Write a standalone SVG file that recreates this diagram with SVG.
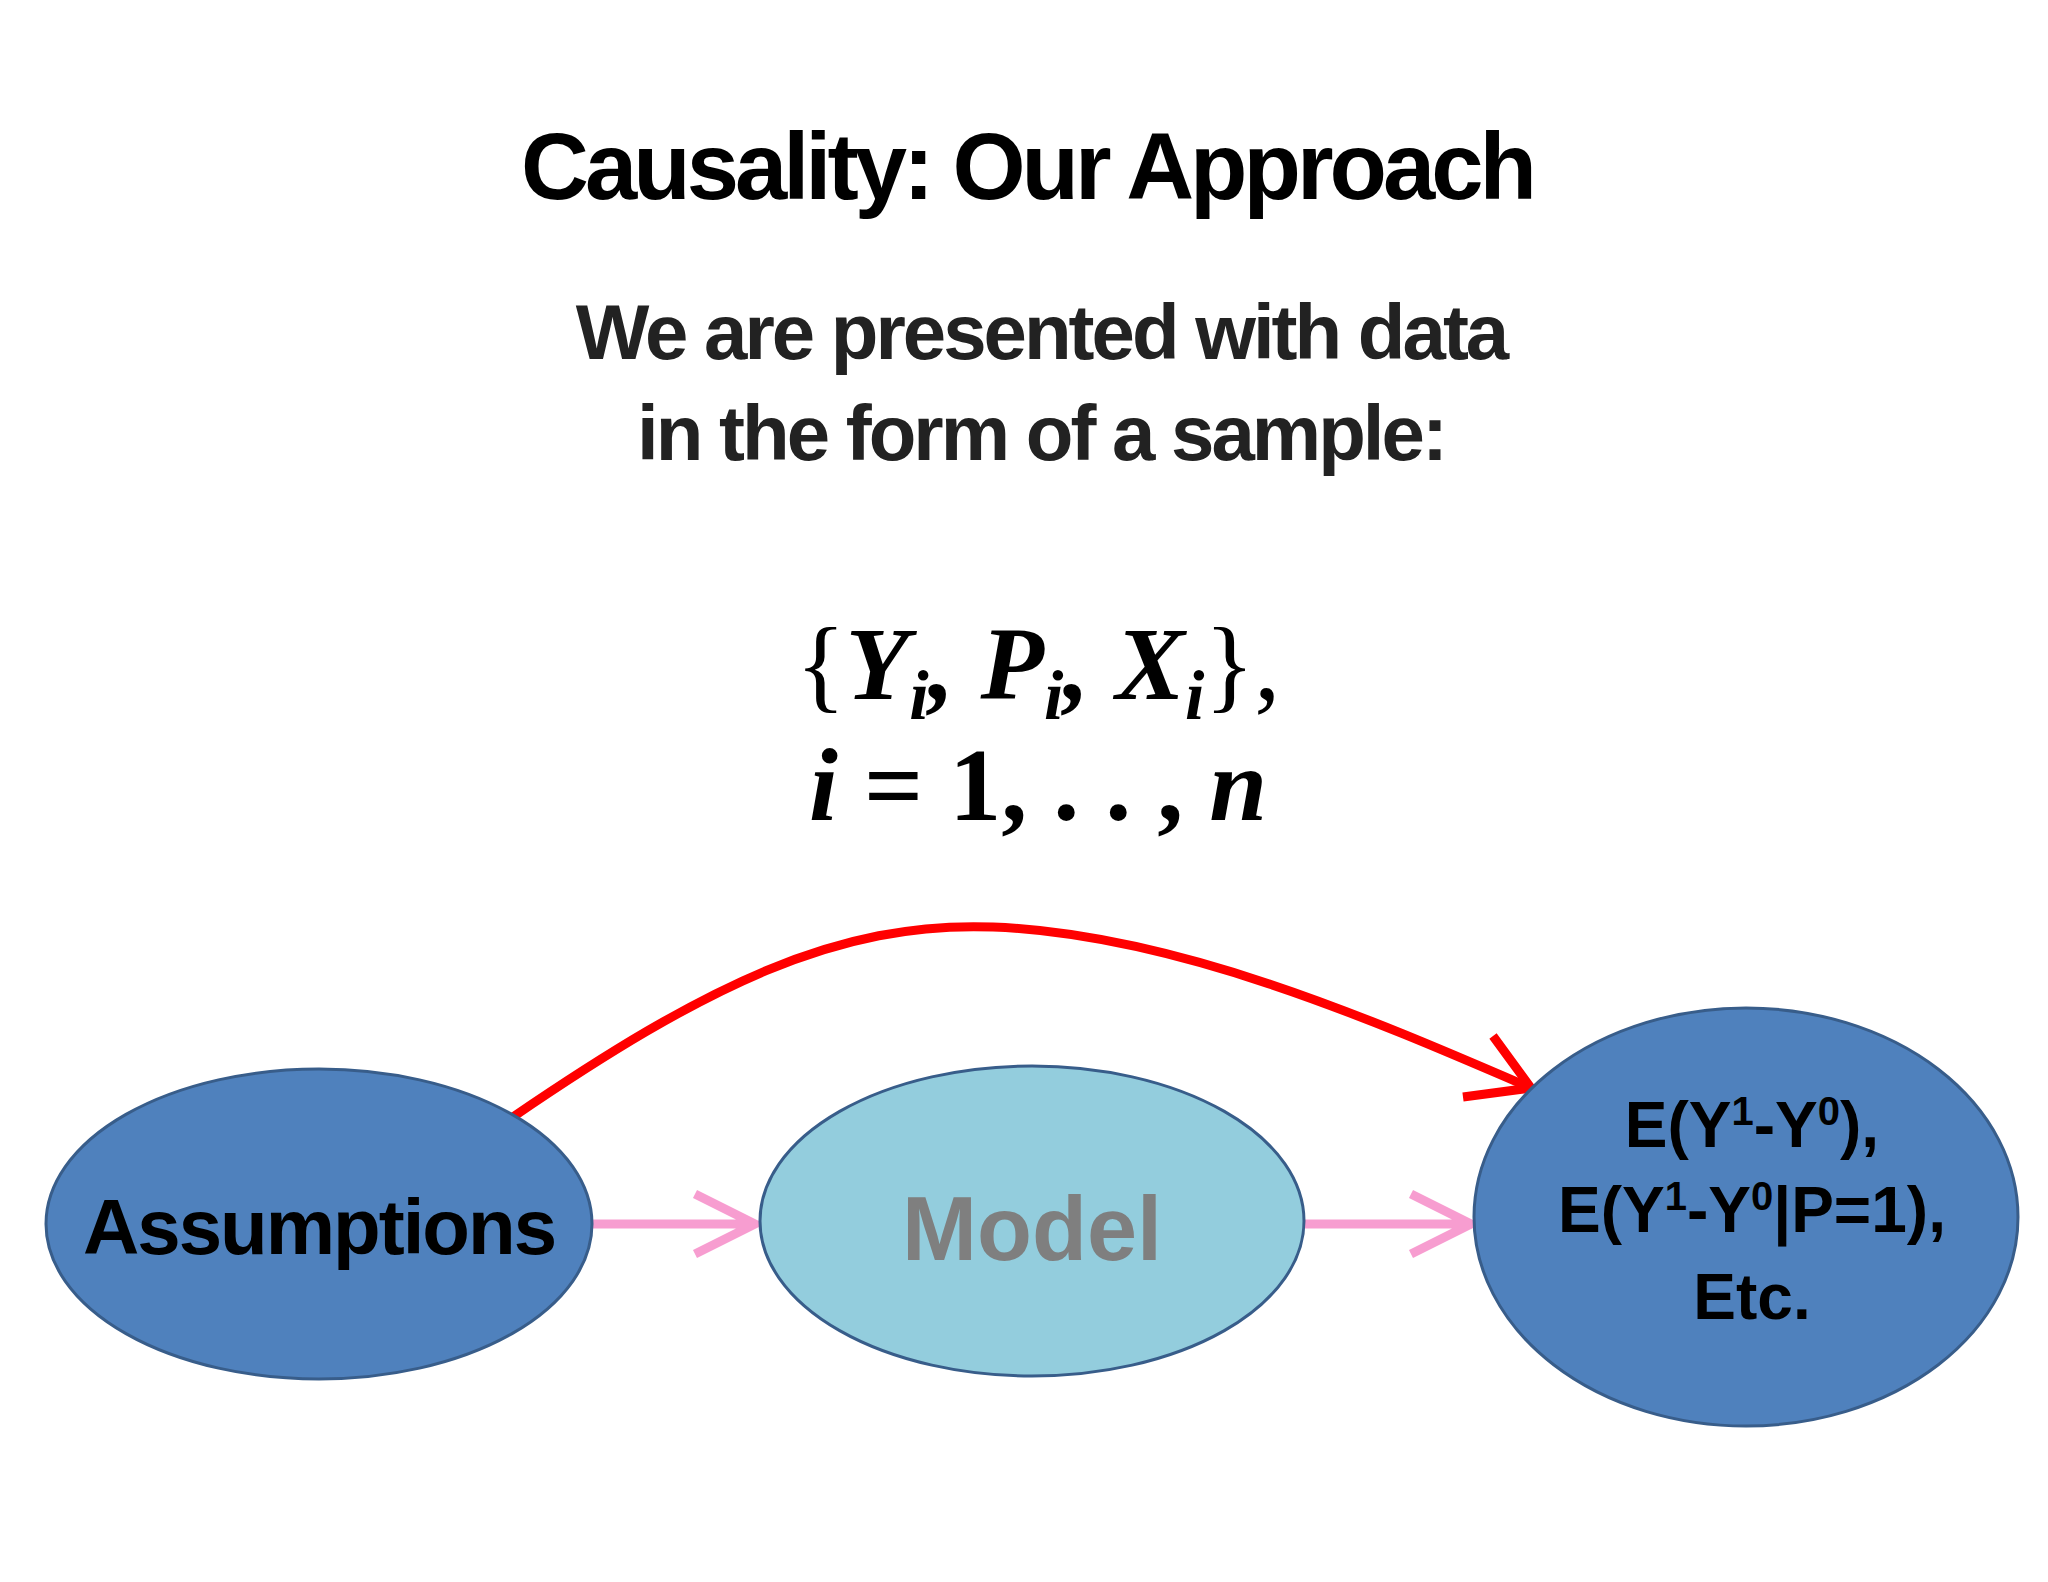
<svg xmlns="http://www.w3.org/2000/svg" width="2048" height="1582" viewBox="0 0 2048 1582">
<style>
.t{font-family:"Liberation Sans",Arial,sans-serif;font-weight:bold;text-anchor:middle}
.m{font-family:"Liberation Serif","DejaVu Serif",serif;font-weight:bold;font-style:italic;text-anchor:middle}
.e{stroke:#385d8a;stroke-width:3}
.pk{stroke:#f79dd0;stroke-width:9;fill:none}
</style>
<rect width="2048" height="1582" fill="#fff"/>
<text class="t" x="1027" y="199" font-size="94" letter-spacing="-4" fill="#000">Causality: Our Approach</text>
<text class="t" x="1041" y="359" font-size="78" letter-spacing="-3" fill="#222">We are presented with data</text>
<text class="t" x="1041" y="460" font-size="78" letter-spacing="-3" fill="#222">in the form of a sample:</text>
<text class="m" x="1038" y="699" font-size="104" fill="#000"><tspan font-style="normal" font-weight="normal">{</tspan>Y<tspan font-size="70" dy="20">i</tspan><tspan dy="-20">, P</tspan><tspan font-size="70" dy="20">i</tspan><tspan dy="-20">, X</tspan><tspan font-size="70" dy="20">i</tspan><tspan dy="-20" font-style="normal" font-weight="normal">},</tspan></text>
<text class="m" x="1038" y="820" font-size="104" fill="#000">i <tspan font-style="normal">= 1, . . ,</tspan> n</text>
<g id="connectors">
<path d="M513,1117 C705,986 836,921 993,927 C1175,934 1371,1019 1531,1088" stroke="#f00" stroke-width="9" fill="none"/>
<path d="M1493,1036 L1531,1088 L1463,1097" stroke="#f00" stroke-width="9" fill="none"/>
<path class="pk" d="M590,1224 H755 M695,1194 L755,1224 L695,1254"/>
<path class="pk" d="M1303,1224 H1471 M1411,1194 L1471,1224 L1411,1254"/>
</g>
<g id="assumptions"><ellipse class="e" cx="319" cy="1224" rx="273" ry="155" fill="#4f81bd"/>
<text class="t" x="319" y="1254" font-size="78" letter-spacing="-2" fill="#000">Assumptions</text></g>
<g id="model"><ellipse class="e" cx="1032" cy="1221" rx="272" ry="155" fill="#93cddd"/>
<text class="t" x="1032" y="1260" font-size="90" fill="#7f7f7f">Model</text></g>
<g id="effects"><ellipse class="e" cx="1746" cy="1217" rx="272" ry="209" fill="#4f81bd"/>
<text class="t" x="1752" y="1147" font-size="64" fill="#000">E(Y<tspan font-size="40" dy="-22">1</tspan><tspan dy="22">-Y</tspan><tspan font-size="40" dy="-22">0</tspan><tspan dy="22">),</tspan></text>
<text class="t" x="1752" y="1232" font-size="64" fill="#000">E(Y<tspan font-size="40" dy="-22">1</tspan><tspan dy="22">-Y</tspan><tspan font-size="40" dy="-22">0</tspan><tspan dy="22">|P=1),</tspan></text>
<text class="t" x="1752" y="1319" font-size="64" fill="#000">Etc.</text></g>
</svg>
